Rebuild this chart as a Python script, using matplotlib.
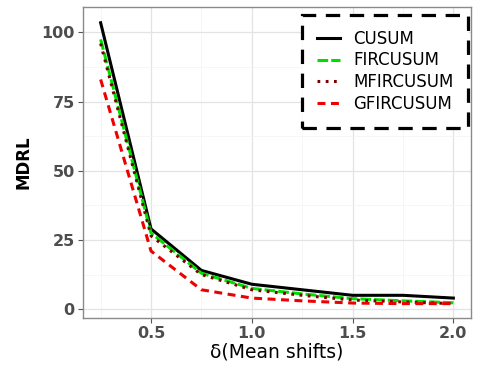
import matplotlib.pyplot as plt
from matplotlib.ticker import MultipleLocator

# valores
delta = [0.25, 0.5, 0.75, 1.0, 1.25, 1.5, 1.75, 2.0]
cusum = [103.5, 29.0, 14.0, 9.0, 7.0, 5.0, 5.0, 4.0]
fircusum = [97.5, 27.5, 13.0, 7.5, 5.5, 3.8, 3.0, 2.3]
mfircusum = [96.0, 26.5, 12.5, 7.0, 5.0, 3.3, 2.6, 2.0]
gfircusum = [83.0, 21.0, 7.0, 4.0, 3.0, 2.2, 2.0, 2.0]

series = ['CUSUM', 'FIRCUSUM', 'MFIRCUSUM', 'GFIRCUSUM']
colores = ['black', '#00dd00', '#7a0000', '#ee0000']
estilos = ['-', (0, (3.5, 1.0)), (0, (0.9, 1.8)), (0, (2.6, 1.8))]

plt.rcParams['font.family'] = ['DejaVu Sans']

fig = plt.figure(figsize=(4.8, 3.74), dpi=100)
ax = fig.add_axes([83 / 480, 56 / 374, 388 / 480, 311 / 374])

datos = [cusum, fircusum, mfircusum, gfircusum]
for nombre, valores, c, ls in zip(series, datos, colores, estilos):
    ax.plot(delta, valores, color=c, linestyle=ls, linewidth=2.2,
            dash_capstyle='butt', label=nombre)

ax.set_xlim(0.1625, 2.0875)
ax.set_ylim(-3.2, 109.2)
ax.xaxis.set_major_locator(MultipleLocator(0.5))
ax.yaxis.set_major_locator(MultipleLocator(25))
ax.xaxis.set_minor_locator(MultipleLocator(0.25))
ax.yaxis.set_minor_locator(MultipleLocator(12.5))
ax.grid(which='major', color='#e3e3e3', linewidth=0.9)
ax.grid(which='minor', color='#f3f3f3', linewidth=0.5)
ax.set_axisbelow(True)
for s in ax.spines.values():
    s.set_color('#8a8a8a')
    s.set_linewidth(1.0)
ax.tick_params(which='major', length=3.5, color='#555555', labelsize=11.5,
               labelcolor='#4d4d4d', width=0.8, pad=2.5)
ax.tick_params(which='minor', length=0)
for t in ax.get_xticklabels() + ax.get_yticklabels():
    t.set_fontweight('bold')

ax.set_xlabel('δ(Mean shifts)', fontsize=13.5, labelpad=1)
ax.set_ylabel('MDRL', fontsize=12, fontweight='bold', labelpad=6)

leg = ax.legend(loc='upper right', bbox_to_anchor=(0.993, 0.975),
                borderaxespad=0, frameon=True,
                fontsize=12, handlelength=1.4, handletextpad=0.75,
                labelspacing=0.22, borderpad=0.9, fancybox=False,
                framealpha=1)
frame = leg.get_frame()
frame.set_edgecolor('black')
frame.set_linewidth(2.3)
frame.set_linestyle((0, (4.5, 3)))

fig.savefig('out.png', dpi=100)
